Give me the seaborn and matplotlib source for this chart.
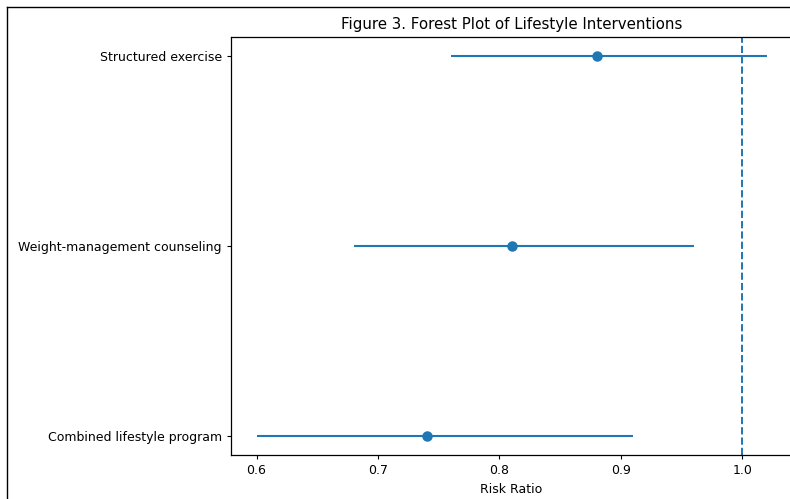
import pandas as pd
import matplotlib.pyplot as plt
import seaborn as sns

# forest plot data
interventions = ["Structured exercise", "Weight-management counseling", "Combined lifestyle program"]
risk_ratio = [0.88, 0.81, 0.74]
ci_low = [0.76, 0.68, 0.60]
ci_high = [1.02, 0.96, 0.91]

df = pd.DataFrame({"intervention": interventions, "rr": risk_ratio,
                   "low": ci_low, "high": ci_high})

plt.rcParams["font.size"] = 9
plt.rcParams["xtick.major.size"] = 3.2
plt.rcParams["ytick.major.size"] = 3.2

fig = plt.figure(figsize=(7.9, 4.99), dpi=100)
ax = fig.add_axes([231 / 790, 44 / 499, 561 / 790, 418 / 499])

# CI lines
ax.hlines(y=range(len(df)), xmin=df["low"], xmax=df["high"], color="C0", lw=1.5, zorder=2)

# point estimates
sns.pointplot(data=df, x="rr", y="intervention", order=interventions,
              linestyle="none", marker="o", color="C0", errorbar=None,
              markersize=5.5, ax=ax, zorder=3)

ax.axvline(1.0, linestyle="--", color="C0", lw=1.4)

ax.set_xlim(0.579, 1.041)
ax.set_ylim(2.1, -0.1)
ax.set_xticks([0.6, 0.7, 0.8, 0.9, 1.0])
ax.tick_params(labelsize=9)
ax.set_xlabel("Risk Ratio", fontsize=9)
ax.set_ylabel("")
ax.set_title("Figure 3. Forest Plot of Lifestyle Interventions", fontsize=10.8)
for s in ax.spines.values():
    s.set_linewidth(0.9)

# screenshot border (top and left only, rest is cropped)
fig.add_artist(plt.Line2D([7 / 790, 7 / 790], [0, 1 - 7 / 499], color="black", lw=1.0))
fig.add_artist(plt.Line2D([7 / 790, 1], [1 - 7 / 499, 1 - 7 / 499], color="black", lw=1.0))

fig.savefig("out.png", dpi=100)
